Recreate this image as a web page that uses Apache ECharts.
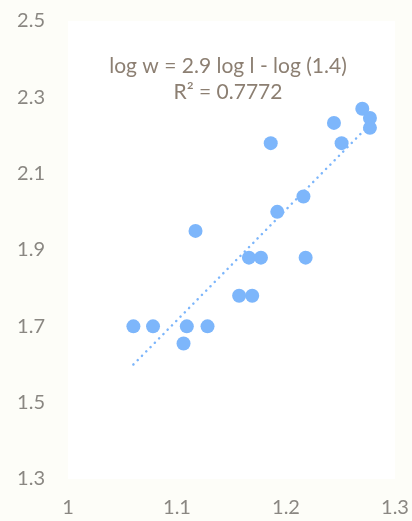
<!DOCTYPE html>
<html>
<head>
<meta charset="utf-8">
<script src="https://cdn.jsdelivr.net/npm/echarts@6/dist/echarts.min.js"></script>
<style>
html,body{margin:0;padding:0;background:#FDFDF8;}
#chart{width:412px;height:521px;}
</style>
</head>
<body>
<div id="chart"></div>
<script>
var xValues = [1.06, 1.078, 1.109, 1.128, 1.106, 1.117, 1.157, 1.169, 1.166, 1.177, 1.218, 1.192, 1.216, 1.186, 1.251, 1.244, 1.270, 1.277, 1.277];
var yValues = [1.70, 1.70, 1.70, 1.70, 1.655, 1.95, 1.78, 1.78, 1.88, 1.88, 1.88, 2.00, 2.04, 2.18, 2.18, 2.233, 2.27, 2.246, 2.22];
var trendX = [1.06, 1.277];
var trendY = [1.60, 2.229];
var equationLines = ['log w = 2.9 log l - log (1.4)', 'R² = 0.7772'];
var yTicks = [1.3, 1.5, 1.7, 1.9, 2.1, 2.3, 2.5];
var xTicks = [1, 1.1, 1.2, 1.3];

var points = xValues.map(function (x, i) { return [x, yValues[i]]; });
var trend = trendX.map(function (x, i) { return [x, trendY[i]]; });
var font = 'Lato, "Open Sans", sans-serif';

var chart = echarts.init(document.getElementById('chart'), null, {renderer: 'canvas'});
chart.setOption({
  backgroundColor: '#FDFDF8',
  animation: false,
  title: {
    text: equationLines.join('\n'),
    left: 223,
    top: 48,
    textAlign: 'center',
    textStyle: {fontFamily: font, fontSize: 21, fontWeight: 'normal', color: '#8C7F72', lineHeight: 26}
  },
  grid: {left: 68, right: 17, top: 21, bottom: 42, show: true, backgroundColor: '#FFFFFF', borderWidth: 0},
  xAxis: {
    type: 'value', min: xTicks[0], max: xTicks[xTicks.length - 1], interval: 0.1,
    axisLine: {show: false}, axisTick: {show: false}, splitLine: {show: false},
    axisLabel: {margin: 19, fontFamily: font, fontSize: 20, color: '#8A8782'}
  },
  yAxis: {
    type: 'value', min: yTicks[0], max: yTicks[yTicks.length - 1], interval: 0.2,
    axisLine: {show: false}, axisTick: {show: false}, splitLine: {show: false},
    axisLabel: {margin: 23, fontFamily: font, fontSize: 20, color: '#8A8782',
      formatter: function (v) { return v.toFixed(1); }}
  },
  series: [
    {
      type: 'line', data: trend, symbol: 'none', z: 1,
      lineStyle: {color: '#7DB6FB', width: 2.5, type: [0.1, 6], cap: 'round'}
    },
    {
      type: 'scatter', data: points, symbolSize: 14, z: 2,
      itemStyle: {color: '#7DB6FB', opacity: 1}
    }
  ]
});
</script>
</body>
</html>
